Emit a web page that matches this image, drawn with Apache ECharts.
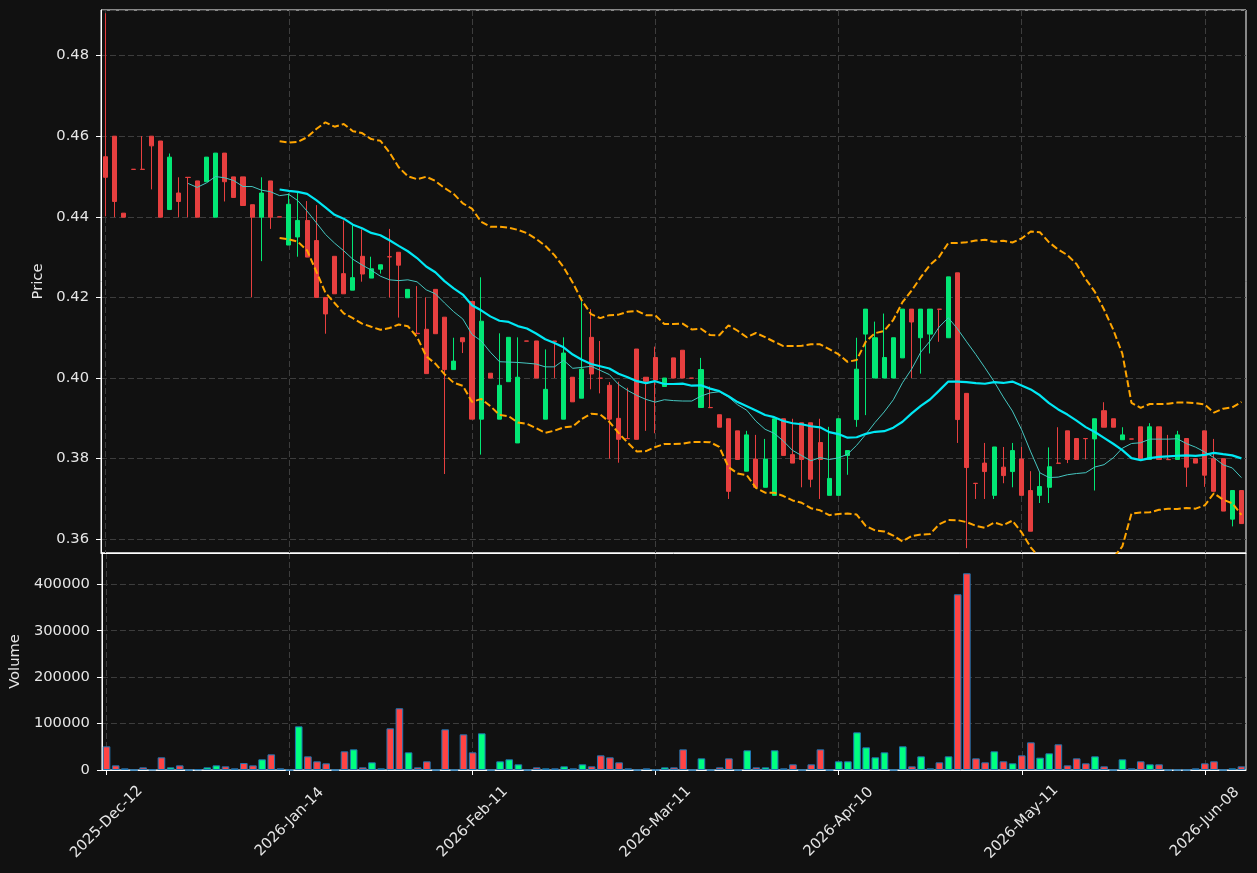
<!DOCTYPE html>
<html>
<head>
<meta charset="utf-8">
<script src="https://cdn.jsdelivr.net/npm/echarts@6/dist/echarts.min.js"></script>
<style>
html,body{margin:0;padding:0;background:#111111;}
#chart{width:1257px;height:873px;}
</style>
</head>
<body>
<div id="chart"></div>
<script>
const dates = [
'2025-Dec-12','2025-Dec-15','2025-Dec-16','2025-Dec-17','2025-Dec-18','2025-Dec-19','2025-Dec-22','2025-Dec-23','2025-Dec-24','2025-Dec-29',
'2025-Dec-30','2025-Dec-31','2026-Jan-02','2026-Jan-05','2026-Jan-06','2026-Jan-07','2026-Jan-08','2026-Jan-09','2026-Jan-12','2026-Jan-13',
'2026-Jan-14','2026-Jan-15','2026-Jan-16','2026-Jan-19','2026-Jan-20','2026-Jan-21','2026-Jan-22','2026-Jan-23','2026-Jan-26','2026-Jan-27',
'2026-Jan-28','2026-Jan-29','2026-Jan-30','2026-Feb-02','2026-Feb-03','2026-Feb-04','2026-Feb-05','2026-Feb-06','2026-Feb-09','2026-Feb-10',
'2026-Feb-11','2026-Feb-12','2026-Feb-13','2026-Feb-16','2026-Feb-17','2026-Feb-18','2026-Feb-19','2026-Feb-20','2026-Feb-23','2026-Feb-24',
'2026-Feb-25','2026-Feb-26','2026-Feb-27','2026-Mar-02','2026-Mar-03','2026-Mar-04','2026-Mar-05','2026-Mar-06','2026-Mar-09','2026-Mar-10',
'2026-Mar-11','2026-Mar-12','2026-Mar-13','2026-Mar-16','2026-Mar-17','2026-Mar-18','2026-Mar-19','2026-Mar-23','2026-Mar-24','2026-Mar-25',
'2026-Mar-26','2026-Mar-27','2026-Mar-30','2026-Mar-31','2026-Apr-01','2026-Apr-02','2026-Apr-06','2026-Apr-07','2026-Apr-08','2026-Apr-09',
'2026-Apr-10','2026-Apr-13','2026-Apr-14','2026-Apr-15','2026-Apr-16','2026-Apr-17','2026-Apr-20','2026-Apr-21','2026-Apr-22','2026-Apr-23',
'2026-Apr-24','2026-Apr-27','2026-Apr-28','2026-Apr-29','2026-Apr-30','2026-May-04','2026-May-05','2026-May-06','2026-May-07','2026-May-08',
'2026-May-11','2026-May-12','2026-May-13','2026-May-14','2026-May-15','2026-May-18','2026-May-19','2026-May-20','2026-May-21','2026-May-22',
'2026-May-25','2026-May-26','2026-May-27','2026-May-28','2026-May-29','2026-Jun-01','2026-Jun-02','2026-Jun-03','2026-Jun-04','2026-Jun-05',
'2026-Jun-08','2026-Jun-09','2026-Jun-10','2026-Jun-11','2026-Jun-12'
];

const open = [
0.4549,0.4600,0.4409,0.4518,0.4518,0.4600,0.4588,0.4418,0.4459,0.4498,
0.4489,0.4487,0.4399,0.4558,0.4499,0.4499,0.4430,0.4399,0.4489,0.4400,
0.4330,0.4350,0.4391,0.4341,0.4200,0.4302,0.4259,0.4218,0.4302,0.4248,
0.4270,0.4301,0.4312,0.4199,0.4111,0.4121,0.4220,0.4151,0.4021,0.4100,
0.4190,0.3898,0.4012,0.3898,0.3991,0.3839,0.4092,0.4092,0.3898,0.4092,
0.3898,0.4002,0.3950,0.4101,0.4000,0.3982,0.3900,0.3850,0.4072,0.4002,
0.4051,0.3979,0.4050,0.4069,0.4000,0.3927,0.3927,0.3909,0.3899,0.3869,
0.3769,0.3799,0.3729,0.3709,0.3899,0.3810,0.3889,0.3889,0.3840,0.3709,
0.3709,0.3808,0.3897,0.4109,0.4000,0.4000,0.4000,0.4050,0.4171,0.4100,
0.4109,0.4171,0.4100,0.4261,0.3962,0.3739,0.3789,0.3709,0.3779,0.3768,
0.3799,0.3721,0.3709,0.3729,0.3789,0.3869,0.3850,0.3850,0.3849,0.3919,
0.3899,0.3847,0.3849,0.3879,0.3798,0.3879,0.3798,0.3798,0.3850,0.3800,
0.3869,0.3800,0.3800,0.3650,0.3721
];

const close = [
0.4498,0.4438,0.4399,0.45175,0.45175,0.4576,0.4399,0.4548,0.4438,0.44975,
0.4399,0.4548,0.4558,0.4487,0.4448,0.4428,0.4399,0.4459,0.4399,0.43995,
0.4431,0.4391,0.4300,0.4200,0.4159,0.4209,0.4209,0.4249,0.4258,0.4271,
0.4281,0.43005,0.4280,0.4220,0.4110,0.4011,0.4110,0.4021,0.4042,0.4090,
0.3898,0.4141,0.4000,0.3982,0.4101,0.4002,0.40915,0.4000,0.3972,0.4090,
0.4062,0.3941,0.4022,0.4010,0.39995,0.3898,0.3848,0.38495,0.3848,0.3992,
0.3995,0.4000,0.4000,0.4000,0.39995,0.4021,0.39265,0.3878,0.3719,0.3798,
0.3859,0.3729,0.3799,0.3899,0.3808,0.3789,0.3798,0.3749,0.3798,0.3751,
0.3899,0.3820,0.4022,0.4171,0.4100,0.4051,0.4100,0.4171,0.4139,0.4171,
0.4171,0.41705,0.4251,0.3897,0.3778,0.37385,0.3768,0.3829,0.3758,0.3820,
0.3709,0.3620,0.3731,0.3780,0.37885,0.3798,0.3798,0.38495,0.3899,0.3878,
0.3878,0.3859,0.38485,0.3798,0.3879,0.3798,0.37975,0.3859,0.3779,0.3789,
0.3759,0.3719,0.3670,0.3721,0.3639
];

const low = [
0.4401,0.4399,0.4399,0.45175,0.45175,0.4468,0.4399,0.4418,0.4399,0.4399,
0.4399,0.4487,0.4399,0.4438,0.4448,0.4428,0.4200,0.4290,0.4370,0.43995,
0.4330,0.4301,0.4300,0.4200,0.4110,0.4209,0.4209,0.4218,0.4239,0.4248,
0.4259,0.4200,0.4150,0.4199,0.4110,0.4011,0.4110,0.3762,0.4021,0.4062,
0.3898,0.3810,0.4000,0.3898,0.3991,0.3839,0.40915,0.4000,0.3898,0.4000,
0.3898,0.3941,0.3950,0.3972,0.3962,0.3800,0.3790,0.38495,0.3848,0.3869,
0.3863,0.3979,0.4000,0.4000,0.39995,0.3927,0.39265,0.3878,0.3700,0.3798,
0.3769,0.3729,0.3729,0.3709,0.3808,0.3789,0.3729,0.3729,0.3700,0.3709,
0.3709,0.3760,0.3879,0.3908,0.4000,0.4000,0.4000,0.4050,0.4000,0.4011,
0.4061,0.4090,0.4100,0.3839,0.3578,0.3700,0.3700,0.3700,0.3739,0.3729,
0.3709,0.3620,0.3690,0.3690,0.37885,0.3789,0.3798,0.3798,0.3721,0.3878,
0.3878,0.3847,0.38485,0.3798,0.3798,0.3798,0.37975,0.3798,0.3730,0.3789,
0.3730,0.3719,0.3670,0.3632,0.3639
];

const high = [
0.4905,0.4600,0.4409,0.4518,0.4600,0.4600,0.4588,0.4557,0.4498,0.4498,
0.4489,0.4548,0.4558,0.4558,0.4499,0.4499,0.4430,0.4498,0.4489,0.4400,
0.4458,0.4459,0.4439,0.4429,0.4200,0.4302,0.4391,0.4379,0.4369,0.4301,
0.4281,0.4370,0.4312,0.4220,0.4228,0.4200,0.4220,0.4151,0.4100,0.4100,
0.4190,0.4250,0.4012,0.4111,0.4101,0.4101,0.4092,0.4092,0.4071,0.4092,
0.4101,0.4002,0.4200,0.4171,0.4092,0.3990,0.3991,0.3976,0.4072,0.4002,
0.4078,0.4000,0.4050,0.4069,0.4000,0.4050,0.3979,0.3909,0.3899,0.3869,
0.3869,0.3859,0.3849,0.3899,0.3899,0.3899,0.3889,0.3889,0.3899,0.3879,
0.3899,0.3820,0.4100,0.4171,0.4140,0.4160,0.4100,0.4171,0.4171,0.4171,
0.4171,0.4171,0.4251,0.4261,0.3962,0.3739,0.3839,0.3829,0.3829,0.3839,
0.3829,0.3769,0.3766,0.3828,0.3878,0.3869,0.3850,0.3850,0.3899,0.3940,
0.3899,0.3878,0.3849,0.3879,0.3888,0.3879,0.3859,0.3869,0.3850,0.3800,
0.3869,0.3849,0.3800,0.3721,0.3721
];

const volume = [
51000,10000,3600,0,5700,1000,27300,5700,10000,0,
1400,5700,10000,7900,3600,15000,10000,23000,33700,3600,
0,94000,29400,18700,14400,0,40200,44500,5700,16500,
3600,89800,133000,38000,5700,18700,0,87600,0,76800,
38000,79000,0,18700,23000,12200,0,5700,3600,3600,
7900,3600,12200,7900,31600,27300,16500,3600,0,3600,
0,5700,5700,44500,0,25100,0,5700,25100,0,
42400,5700,5700,42400,3600,12200,0,12200,44500,0,
18700,18700,81100,48800,27300,38000,0,51000,7900,29400,
3600,16500,29400,378500,423700,25100,16500,40200,18700,14400,
31600,59600,26600,35900,55300,10000,25100,14400,29400,7900,
0,23000,3600,18700,12200,12200,0,0,0,3600,
14400,18700,0,3600,7900
];

// indicator periods
const MA_SHORT = 10;
const MA_LONG = 20;
const BB_K = 2;

function movingAverage(arr, n) {
  return arr.map((_, i) => {
    if (i < n - 1) return '-';
    let s = 0;
    for (let j = i - n + 1; j <= i; j++) s += arr[j];
    return s / n;
  });
}
function bollinger(arr, n, k) {
  const up = [], lo = [];
  arr.forEach((_, i) => {
    if (i < n - 1) { up.push('-'); lo.push('-'); return; }
    let s = 0;
    for (let j = i - n + 1; j <= i; j++) s += arr[j];
    const m = s / n;
    let v = 0;
    for (let j = i - n + 1; j <= i; j++) v += (arr[j] - m) * (arr[j] - m);
    const sd = Math.sqrt(v / n);
    up.push(m + k * sd); lo.push(m - k * sd);
  });
  return [up, lo];
}

const UP = '#02e775', DOWN = '#e73f3f';
const VUP = '#00ff80', VDOWN = '#ff4444';
const TXT = '#e6e6e6';
const FS = 14.7;
const FONT = 'DejaVu Sans';

const candles = dates.map((d, i) => [open[i], close[i], low[i], high[i]]);
const ma10 = movingAverage(close, MA_SHORT);
const ma20 = movingAverage(close, MA_LONG);
const [bbUp, bbLo] = bollinger(close, MA_LONG, BB_K);
const volData = volume.map((v, i) => ({
  value: v,
  itemStyle: { color: close[i] >= open[i] ? VUP : VDOWN }
}));

const every20 = (i) => i % 20 === 0;
const gridLine = { color: '#3d3d3d', type: [6, 3], width: 1 };

const chart = echarts.init(document.getElementById('chart'), null, { renderer: 'canvas' });
chart.setOption({
  backgroundColor: '#111111',
  animation: false,
  textStyle: { fontFamily: FONT },
  grid: [
    { left: 101, top: 10, width: 1145, height: 543, show: true, borderColor: '#ffffff', borderWidth: 1, backgroundColor: 'transparent' },
    { left: 101, top: 553, width: 1145, height: 217, show: true, borderColor: '#ffffff', borderWidth: 1, backgroundColor: 'transparent' }
  ],
  xAxis: [
    {
      type: 'category', gridIndex: 0, data: dates, boundaryGap: true,
      axisLine: { show: true, lineStyle: { color: '#ffffff' } },
      axisTick: { show: false }, axisLabel: { show: false },
      splitLine: { show: true, interval: every20, alignWithLabel: true, lineStyle: gridLine }
    },
    {
      type: 'category', gridIndex: 1, data: dates, boundaryGap: true,
      axisLine: { show: true, lineStyle: { color: '#ffffff' } },
      axisTick: { show: true, interval: every20, alignWithLabel: true, length: 5, lineStyle: { color: '#ffffff' } },
      axisLabel: { interval: every20, rotate: 45, align: 'center', verticalAlign: 'middle', margin: 52,
                   color: TXT, fontSize: FS, fontFamily: FONT },
      splitLine: { show: true, interval: every20, alignWithLabel: true, lineStyle: gridLine }
    }
  ],
  yAxis: [
    {
      type: 'value', gridIndex: 0, min: 0.3566, max: 0.4913, splitNumber: 6,
      minInterval: 0.02, maxInterval: 0.02, scale: true,
      name: 'Price', nameLocation: 'middle', nameGap: 51,
      nameTextStyle: { color: TXT, fontSize: FS, fontFamily: FONT },
      axisLine: { show: true, lineStyle: { color: '#ffffff' } },
      axisTick: { show: true, length: 5, lineStyle: { color: '#ffffff' } },
      axisLabel: { color: TXT, fontSize: FS, fontFamily: FONT, margin: 12, showMinLabel: false, showMaxLabel: false,
                   formatter: (v) => v.toFixed(2) },
      splitLine: { show: true, lineStyle: gridLine }
    },
    {
      type: 'value', gridIndex: 1, min: 0, max: 467400, splitNumber: 4,
      minInterval: 100000, maxInterval: 100000,
      name: 'Volume', nameLocation: 'middle', nameGap: 75,
      nameTextStyle: { color: TXT, fontSize: FS, fontFamily: FONT },
      axisLine: { show: true, lineStyle: { color: '#ffffff' } },
      axisTick: { show: true, length: 5, lineStyle: { color: '#ffffff' } },
      axisLabel: { color: TXT, fontSize: FS, fontFamily: FONT, margin: 12, showMaxLabel: false,
                   formatter: (v) => String(Math.round(v)) },
      splitLine: { show: true, lineStyle: gridLine }
    }
  ],
  series: [
    {
      name: 'OHLC', type: 'candlestick', xAxisIndex: 0, yAxisIndex: 0,
      data: candles, barWidth: 4.6,
      itemStyle: { color: UP, color0: DOWN, borderColor: UP, borderColor0: DOWN, borderWidth: 1 },
      z: 2
    },
    {
      name: 'MA10', type: 'line', xAxisIndex: 0, yAxisIndex: 0, data: ma10,
      symbol: 'none', smooth: false, lineStyle: { color: '#45c6c0', width: 1 }, z: 3
    },
    {
      name: 'MA20', type: 'line', xAxisIndex: 0, yAxisIndex: 0, data: ma20,
      symbol: 'none', smooth: false, lineStyle: { color: '#00e8f4', width: 2.2 }, z: 4
    },
    {
      name: 'BB Upper', type: 'line', xAxisIndex: 0, yAxisIndex: 0, data: bbUp,
      symbol: 'none', lineStyle: { color: '#ffa500', width: 2, type: [7, 3] }, z: 4
    },
    {
      name: 'BB Lower', type: 'line', xAxisIndex: 0, yAxisIndex: 0, data: bbLo,
      symbol: 'none', lineStyle: { color: '#ffa500', width: 2, type: [7, 3] }, z: 4
    },
    {
      name: 'Volume', type: 'bar', xAxisIndex: 1, yAxisIndex: 1, data: volData,
      barWidth: 7.6, itemStyle: { borderColor: '#1f77b4', borderWidth: 1 }
    }
  ]
});
</script>
</body>
</html>
